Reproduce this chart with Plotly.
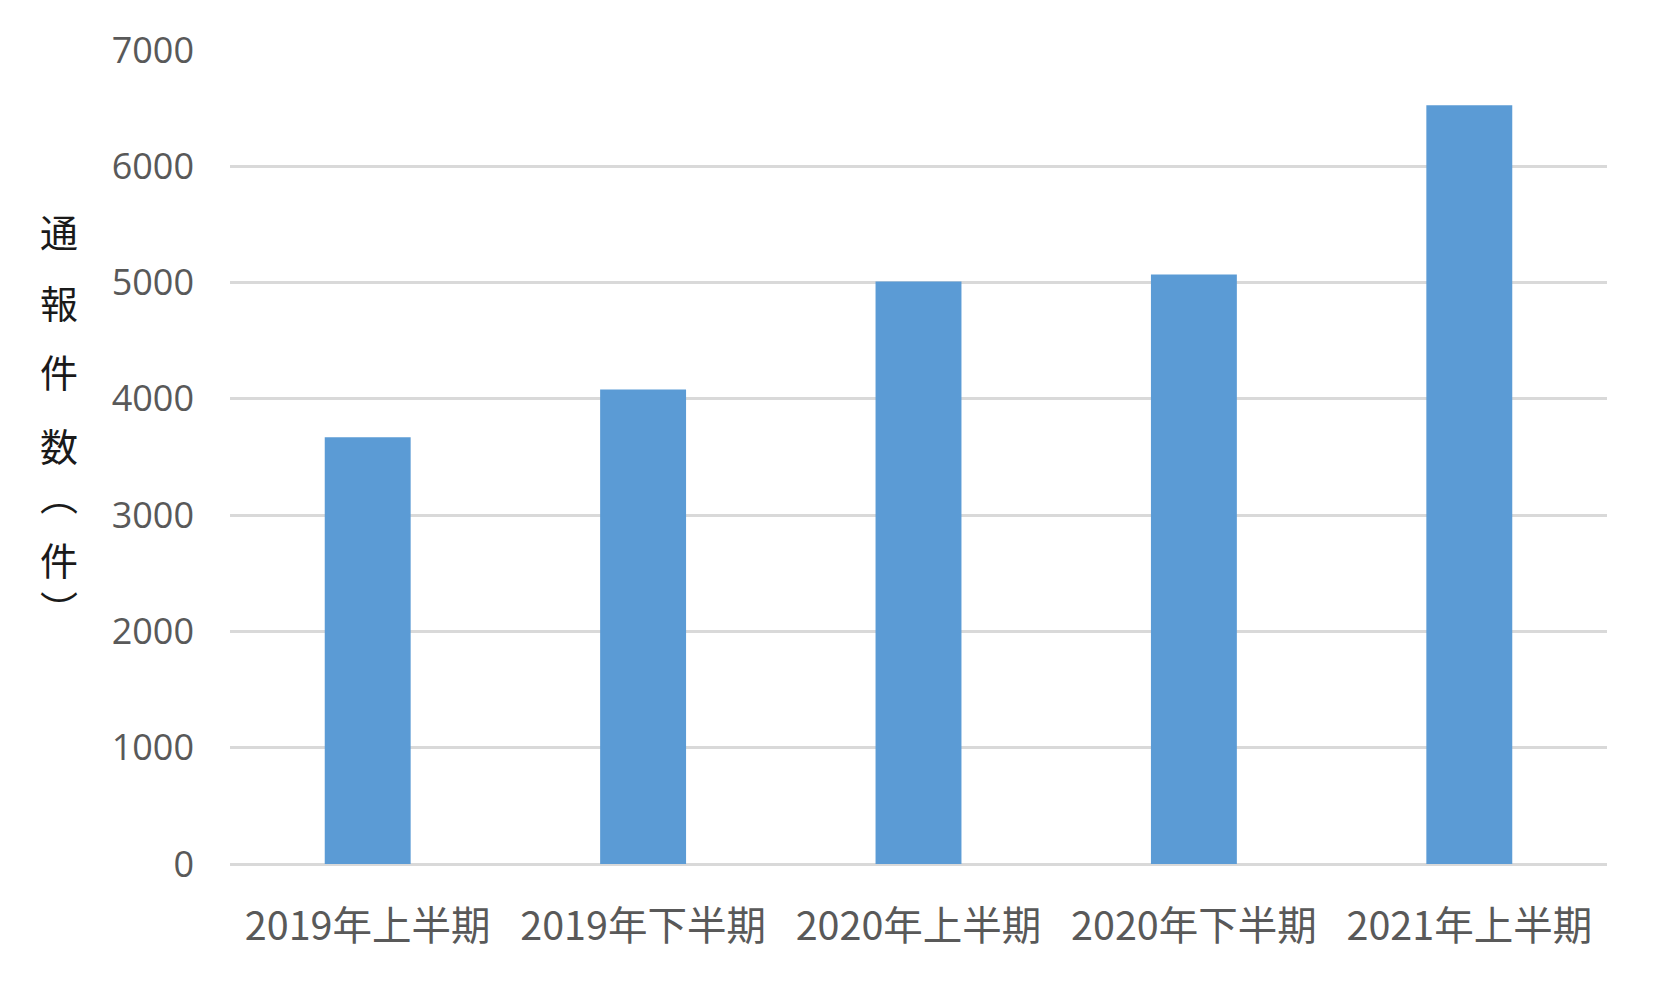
import plotly.graph_objects as go

# 通報件数 by half-year
periods = ["2019年上半期", "2019年下半期", "2020年上半期", "2020年下半期", "2021年上半期"]
counts = [3670, 4080, 5010, 5070, 6525]
y_ticks = [0, 1000, 2000, 3000, 4000, 5000, 6000, 7000]

# vertical axis title, stacked characters (pixel centre from figure top)
title_parts = ["通", "報", "件", "数<br>︵", "件<br>︶"]
title_y_px = [222, 293, 363, 461, 575]

# page has an 8px body margin, so the figure is a bit smaller than the window
W, H = 1650, 982
M_L, M_R, M_T, M_B = 222, 51, 42, 126
plot_w = W - M_L - M_R
plot_h = H - M_T - M_B

fig = go.Figure()

fig.add_trace(go.Bar(
    x=periods,
    y=counts,
    marker=dict(color="#5B9BD5", line=dict(width=0)),
    hoverinfo="x+y",
    showlegend=False
))

for part, ypx in zip(title_parts, title_y_px):
    fig.add_annotation(
        text=part,
        xref="paper", yref="paper",
        x=(51 - M_L) / plot_w,
        y=(H - M_B - ypx) / plot_h,
        xanchor="center", yanchor="middle",
        showarrow=False,
        font=dict(family="Noto Sans CJK JP", size=38, color="#1a1a1a")
    )

fig.update_layout(
    width=W, height=H,
    margin=dict(l=M_L, r=M_R, t=M_T, b=M_B),
    plot_bgcolor="white",
    paper_bgcolor="white",
    bargap=0.688,
    showlegend=False
)

fig.update_xaxes(
    showgrid=False,
    showline=False,
    zeroline=False,
    ticks="",
    ticklabelstandoff=35,
    tickfont=dict(family="Noto Sans CJK JP", size=39.5, color="#595959")
)

fig.update_yaxes(
    range=[0, 7000],
    tickvals=y_ticks,
    showgrid=True,
    gridcolor="#D9D9D9",
    gridwidth=2.5,
    zeroline=True,
    zerolinecolor="#D9D9D9",
    zerolinewidth=2.5,
    showline=False,
    ticks="",
    ticklabelstandoff=35,
    tickfont=dict(family="Open Sans", size=36, color="#595959")
)

fig.write_html("out.html")
